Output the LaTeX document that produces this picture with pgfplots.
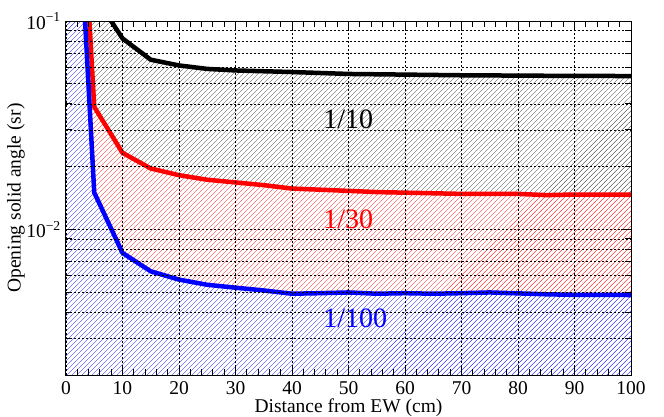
\documentclass[border=0pt]{standalone}
\usepackage{pgfplots}
\pgfplotsset{compat=1.18}
\usepackage{pgfplotstable}
\usetikzlibrary{patterns.meta}
\usepackage{fontspec}
\setmainfont{Liberation Serif}

\pgfplotstableread{
x y
0 0.5
5 0.133
10 0.0825
15 0.0652
20 0.0612
25 0.0589
30 0.0579
35 0.0574
40 0.0569
45 0.0563
50 0.0557
55 0.0555
60 0.0553
65 0.0551
70 0.0549
75 0.0548
80 0.0547
85 0.0546
90 0.0545
95 0.0545
100 0.0544
}\tabten

\pgfplotstableread{
x y
0 9.8
5 0.0387
10 0.0233
15 0.0196
20 0.0182
25 0.0173
30 0.0168
35 0.0163
40 0.0157
45 0.0155
50 0.0153
55 0.0151
60 0.0150
65 0.0149
70 0.0148
75 0.0148
80 0.0148
85 0.0146
90 0.0147
95 0.0147
100 0.0147
}\tabthirty

\pgfplotstableread{
x y
0 5.2
5 0.01502
10 0.00771
15 0.00629
20 0.00574
25 0.00542
30 0.00525
35 0.00509
40 0.00491
45 0.00494
50 0.00498
55 0.00491
60 0.00494
65 0.00491
70 0.00494
75 0.00498
80 0.00493
85 0.00488
90 0.00485
95 0.00485
100 0.00484
}\tabhundred

\newcommand{\lblfont}{\fontsize{19.5bp}{23bp}\selectfont}
\tikzset{hatch/.style={draw=none, pattern={Lines[angle=45,distance=3.5355bp,line width=0.35bp]}, pattern color=#1}}

\begin{document}
\begin{tikzpicture}
\begin{axis}[
  scale only axis,
  width=565bp, height=354bp,
  xmin=0, xmax=100,
  ymode=log, ymin=0.002, ymax=0.1,
  log origin y=infty,
  axis on top,
  xtick={0,10,...,100},
  xticklabels={0,10,20,30,40,50,60,70,80,90,100},
  minor x tick num=4,
  ytick={0.01,0.1},
  yticklabels={10\textsuperscript{−2},10\textsuperscript{−1}},
  minor ytick={0.002,0.003,0.004,0.005,0.006,0.007,0.008,0.009,0.02,0.03,0.04,0.05,0.06,0.07,0.08,0.09},
  tick align=inside,
  xtick pos=both, ytick pos=both,
  xticklabel pos=bottom, yticklabel pos=left,
  major tick length=10bp, minor tick length=6bp,
  xmajorgrids, ymajorgrids, yminorgrids,
  major grid style={black, line width=0.6bp, dash pattern=on 2bp off 2bp},
  minor grid style={black, line width=0.6bp, dash pattern=on 2bp off 2bp},
  axis line style={line width=1bp},
  every tick/.style={black, line width=1bp},
  tick label style={font=\lblfont},
  xticklabel style={inner sep=0pt, yshift=-6bp},
  yticklabel style={inner sep=0pt, xshift=-5bp},
  label style={font=\lblfont},
  xlabel={Distance from EW (cm)},
  ylabel={Opening solid angle (sr)},
  xlabel style={at={(axis description cs:0.5,-0.066)}, anchor=north, inner sep=0pt},
  ylabel style={at={(axis description cs:-0.0726,0.5)}, anchor=south, inner sep=0pt},
]
% fills
\addplot[draw=none, fill=white] table[x=x,y=y]{\tabten} \closedcycle;
\addplot[hatch=black!80] table[x=x,y=y]{\tabten} \closedcycle;
\addplot[draw=none, fill=white] table[x=x,y=y]{\tabthirty} \closedcycle;
\addplot[hatch=red] table[x=x,y=y]{\tabthirty} \closedcycle;
\addplot[draw=none, fill=white] table[x=x,y=y]{\tabhundred} \closedcycle;
\addplot[hatch=blue] table[x=x,y=y]{\tabhundred} \closedcycle;
% curves
\addplot[black, line width=4.5bp, line join=round] table[x=x,y=y]{\tabten};
\addplot[red, line width=4.5bp, line join=round] table[x=x,y=y]{\tabthirty};
\addplot[blue, line width=4.5bp, line join=round] table[x=x,y=y]{\tabhundred};
% labels
\node[black, anchor=west, inner sep=0pt, font=\fontsize{28bp}{32bp}\selectfont] at (axis cs:45.5,0.0337) {1/10};
\node[red, anchor=west, inner sep=0pt, font=\fontsize{28bp}{32bp}\selectfont] at (axis cs:45.5,0.01117) {1/30};
\node[blue, anchor=west, inner sep=0pt, font=\fontsize{28bp}{32bp}\selectfont] at (axis cs:45.5,0.00376) {1/100};
\end{axis}
\path ([shift={(-66bp,-42bp)}]current axis.south west) rectangle ([shift={(33bp,21bp)}]current axis.north east);
\end{tikzpicture}
\end{document}
